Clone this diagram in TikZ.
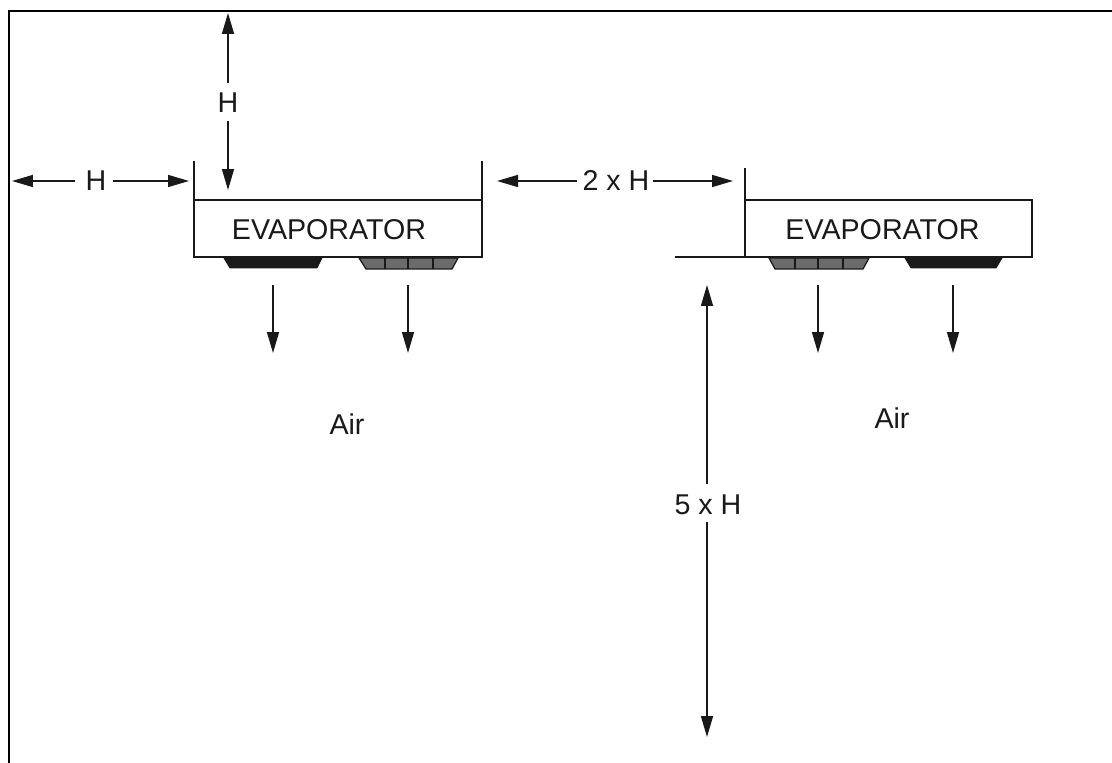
\documentclass[tikz,border=0pt]{standalone}
\usepackage{fontspec}
\setmainfont{Liberation Sans}
\usetikzlibrary{arrows.meta}
\colorlet{ink}{black!90}
\definecolor{coilgrey}{gray}{0.42}
\tikzset{
  x=0.02cm,y=-0.02cm,
  ln/.style={draw=ink,line width=0.9pt},
  dim/.style={ln,-{Triangle[length=0.42cm,width=0.24cm]}},
  lbl/.style={inner sep=0pt,text=ink,font=\fontsize{16.3pt}{19pt}\selectfont},
  evap/.style={lbl,font=\fontsize{16.3pt}{19pt}\selectfont},
  fanblack/.style={fill=ink,draw=ink,line width=0.5pt},
  fangrey/.style={fill=coilgrey,draw=ink,line width=0.7pt},
}
\begin{document}
\begin{tikzpicture}
\useasboundingbox (0,0) rectangle (1112,763);
% frame
\draw[draw=black,line width=1.3pt] (9,763) -- (9,11) -- (1112,11);
% left evaporator
\draw[ln] (194,161) -- (194,257) -- (482,257) -- (482,161);
\draw[ln] (194,200) -- (482,200);
\node[evap] (e1) at (329,230) {EVAPORATOR};
\fill[fanblack] (224,258) -- (322,258) -- (317,268) -- (230,268) -- cycle;
\draw[fangrey] (359,258) -- (458,258) -- (452,269) -- (366,269) -- cycle;
\draw[ln,line width=0.7pt] (385,258) -- (385,269) (408,258) -- (408,269) (433,258) -- (433,269);
\coordinate (a1s) at (273,285); \coordinate (a1e) at (273,353);
\coordinate (a2s) at (408,285); \coordinate (a2e) at (408,353);
\draw[dim] (a1s) -- (a1e);
\draw[dim] (a2s) -- (a2e);
\node[lbl] (air1) at (347,424) {Air};
% right evaporator
\draw[ln] (745,168) -- (745,200) -- (1032,200) -- (1032,257) -- (675,257);
\draw[ln] (745,200) -- (745,257);
\node[evap] (e2) at (882.5,230) {EVAPORATOR};
\draw[fangrey] (769,258) -- (869,258) -- (863,269) -- (775,269) -- cycle;
\draw[ln,line width=0.7pt] (795,258) -- (795,269) (818,258) -- (818,269) (843,258) -- (843,269);
\fill[fanblack] (905,258) -- (1002,258) -- (996,268) -- (911,268) -- cycle;
\coordinate (a3s) at (818,285); \coordinate (a3e) at (818,353);
\coordinate (a4s) at (953,285); \coordinate (a4e) at (953,353);
\draw[dim] (a3s) -- (a3e);
\draw[dim] (a4s) -- (a4e);
\node[lbl] (air2) at (892,418) {Air};
% dimensions
\node[lbl] (h1) at (96,181) {H};
\coordinate (h1a) at (12,181); \coordinate (h1b) at (189,181);
\draw[dim] (h1) ++(-21,0) -- (h1a);
\draw[dim] (h1) ++(17,0) -- (h1b);
\node[lbl] (h2) at (228,103) {H};
\coordinate (h2a) at (228,13); \coordinate (h2b) at (228,190);
\draw[dim] (h2) ++(0,-20) -- (h2a);
\draw[dim] (h2) ++(0,18) -- (h2b);
\node[lbl] (h3) at (616,181) {2 x H};
\coordinate (h3a) at (497,181); \coordinate (h3b) at (733,181);
\draw[dim] (h3) ++(-39,0) -- (h3a);
\draw[dim] (h3) ++(37,0) -- (h3b);
\node[lbl] (h4) at (708,505) {5 x H};
\coordinate (h4a) at (707,285); \coordinate (h4b) at (707,737);
\draw[dim] (707,484) -- (h4a);
\draw[dim] (707,522) -- (h4b);
\end{tikzpicture}
\end{document}
